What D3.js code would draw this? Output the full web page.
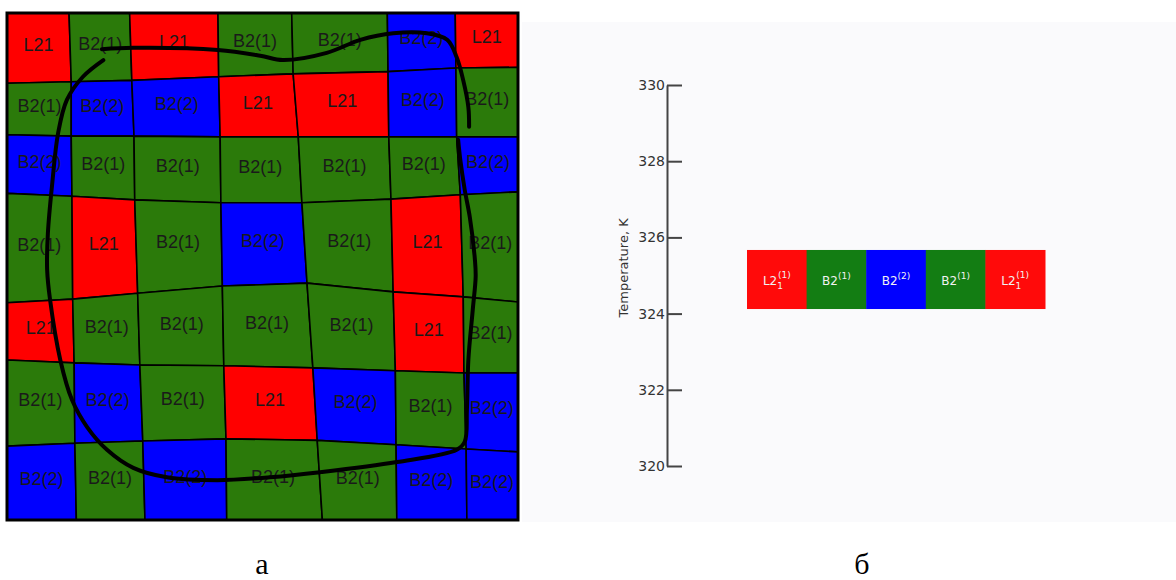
<!DOCTYPE html>
<html lang="ru">
<head>
  <meta charset="UTF-8">
  <title>Ordering of L21 / B2 domains</title>
  <script src="https://d3js.org/d3.v7.min.js"></script>
  <style>
    body { margin: 0; background: #fff; }
  </style>
</head>
<body>
  <script>
    const width = 1176, height = 580;

    // mesh vertices in cell units (8 x 8 grid of corners, rows top -> bottom)
    const meshX = [
      [0, 0.85, 1.68, 2.89, 3.90, 5.21, 6.14, 7],
      [0, 0.88, 1.71, 2.90, 3.92, 5.22, 6.15, 7],
      [0, 0.88, 1.74, 2.92, 3.99, 5.23, 6.16, 7],
      [0, 0.89, 1.75, 2.93, 4.04, 5.26, 6.21, 7],
      [0, 0.90, 1.79, 2.95, 4.11, 5.29, 6.25, 7],
      [0, 0.92, 1.82, 2.97, 4.19, 5.32, 6.26, 7],
      [0, 0.93, 1.86, 3.00, 4.25, 5.33, 6.29, 7],
      [0, 0.95, 1.89, 3.01, 4.32, 5.34, 6.30, 7]
    ];
    const meshY = [
      [0, 0, 0, 0, 0, 0, 0, 0],
      [0.97, 0.95, 0.93, 0.88, 0.84, 0.81, 0.76, 0.75],
      [1.68, 1.70, 1.70, 1.71, 1.71, 1.71, 1.71, 1.71],
      [2.49, 2.53, 2.58, 2.62, 2.62, 2.57, 2.51, 2.47],
      [4.00, 3.95, 3.87, 3.77, 3.73, 3.85, 3.92, 3.99],
      [4.79, 4.83, 4.86, 4.87, 4.90, 4.94, 4.97, 4.97],
      [5.98, 5.94, 5.91, 5.88, 5.90, 5.96, 6.02, 6.06],
      [7, 7, 7, 7, 7, 7, 7, 7]
    ];

    // phase of every cell
    const cellPhase = [
      ['L21', 'B2(1)', 'L21', 'B2(1)', 'B2(1)', 'B2(2)', 'L21'],
      ['B2(1)', 'B2(2)', 'B2(2)', 'L21', 'L21', 'B2(2)', 'B2(1)'],
      ['B2(2)', 'B2(1)', 'B2(1)', 'B2(1)', 'B2(1)', 'B2(1)', 'B2(2)'],
      ['B2(1)', 'L21', 'B2(1)', 'B2(2)', 'B2(1)', 'L21', 'B2(1)'],
      ['L21', 'B2(1)', 'B2(1)', 'B2(1)', 'B2(1)', 'L21', 'B2(1)'],
      ['B2(1)', 'B2(2)', 'B2(1)', 'L21', 'B2(2)', 'B2(1)', 'B2(2)'],
      ['B2(2)', 'B2(1)', 'B2(2)', 'B2(1)', 'B2(1)', 'B2(2)', 'B2(2)']
    ];

    // hand drawn loop, two strokes, in cell units
    const loopTop = [
      [1.30, 0.50], [1.73, 0.48], [2.89, 0.51], [3.47, 0.59], [3.78, 0.65],
      [4.38, 0.55], [4.84, 0.37], [5.29, 0.28], [5.75, 0.28], [6.03, 0.37],
      [6.16, 0.61], [6.25, 0.93], [6.32, 1.30], [6.33, 1.57]
    ];
    const loopMain = [
      [1.32, 0.65], [1.04, 0.88], [0.82, 1.20], [0.70, 1.66], [0.62, 2.35],
      [0.56, 3.04], [0.55, 3.55], [0.59, 3.96], [0.73, 4.79], [0.89, 5.34],
      [1.10, 5.72], [1.37, 6.03], [1.73, 6.28], [2.19, 6.41], [2.88, 6.45],
      [3.60, 6.41], [4.29, 6.34], [5.34, 6.20], [6.16, 6.03], [6.27, 5.92],
      [6.30, 5.48], [6.32, 4.79], [6.38, 4.10], [6.42, 3.64], [6.41, 3.41],
      [6.34, 2.82], [6.27, 2.44], [6.21, 2.03], [6.18, 1.75]
    ];

    // right panel: temperature band of the ordered sequence
    const tempTicks = [320, 322, 324, 326, 328, 330];
    const bandTemp = [324.12, 325.67];
    const seqBase = ['L2', 'B2', 'B2', 'B2', 'L2'];
    const seqSub = ['1', '', '', '', '1'];
    const seqSup = ['(1)', '(1)', '(2)', '(1)', '(1)'];
    const seqPhase = ['L21', 'B2(1)', 'B2(2)', 'B2(1)', 'L21'];

    const phaseColor = { 'L21': '#ff0000', 'B2(1)': '#2b7a0a', 'B2(2)': '#0000ff' };
    const seqColor = { 'L21': '#ff0a0a', 'B2(1)': '#137d13', 'B2(2)': '#0000ff' };

    const svg = d3.select('body')
      .append('svg')
      .attr('width', width)
      .attr('height', height);

    // ---------- panel a ----------
    const xM = d3.scaleLinear().domain([0, 7]).range([7, 518]);
    const yM = d3.scaleLinear().domain([0, 7]).range([13, 520]);
    const pt = (i, j) => [xM(meshX[i][j]), yM(meshY[i][j])];

    const cells = [];
    cellPhase.forEach((row, i) => row.forEach((ph, j) => {
      const poly = [pt(i, j), pt(i, j + 1), pt(i + 1, j + 1), pt(i + 1, j)];
      cells.push({ ph, poly, c: d3.polygonCentroid(poly) });
    }));

    const gA = svg.append('g');
    gA.selectAll('path.cell')
      .data(cells)
      .join('path')
      .attr('class', 'cell')
      .attr('d', d => 'M' + d.poly.join('L') + 'Z')
      .attr('fill', d => phaseColor[d.ph])
      .attr('stroke', '#000')
      .attr('stroke-width', 1.6)
      .attr('stroke-linejoin', 'round');

    gA.selectAll('text.lbl')
      .data(cells)
      .join('text')
      .attr('class', 'lbl')
      .attr('x', d => d.c[0])
      .attr('y', d => d.c[1] - 2)
      .attr('text-anchor', 'middle')
      .attr('dominant-baseline', 'middle')
      .style('font', '18px "Liberation Sans", Arial, sans-serif')
      .style('fill', '#1a1a1a')
      .text(d => d.ph);

    gA.append('rect')
      .attr('x', xM(0))
      .attr('y', yM(0))
      .attr('width', xM(7) - xM(0))
      .attr('height', yM(7) - yM(0))
      .attr('fill', 'none')
      .attr('stroke', '#000')
      .attr('stroke-width', 3);

    const loopLine = d3.line()
      .x(d => xM(d[0]))
      .y(d => yM(d[1]))
      .curve(d3.curveCatmullRom.alpha(0.5));

    gA.selectAll('path.loop')
      .data([loopTop, loopMain])
      .join('path')
      .attr('class', 'loop')
      .attr('d', loopLine)
      .attr('fill', 'none')
      .attr('stroke', '#000')
      .attr('stroke-width', 4)
      .attr('stroke-linecap', 'round')
      .attr('stroke-linejoin', 'round');

    // ---------- panel б ----------
    svg.append('rect')
      .attr('x', 522)
      .attr('y', 22)
      .attr('width', width - 522)
      .attr('height', 500)
      .attr('fill', '#fafafc');

    const yT = d3.scaleLinear().domain([320, 330]).range([466, 85]);

    const axis = d3.axisLeft(yT)
      .tickValues(tempTicks)
      .tickFormat(d3.format('d'))
      .tickSizeInner(-15)
      .tickSizeOuter(0)
      .tickPadding(2);

    const gAx = svg.append('g')
      .attr('transform', 'translate(667, 0)')
      .call(axis);
    gAx.select('.domain').attr('stroke', '#444').attr('stroke-width', 2);
    gAx.selectAll('.tick line').attr('stroke', '#444').attr('stroke-width', 2);
    gAx.selectAll('.tick text')
      .attr('fill', '#333')
      .style('font', '14px "DejaVu Sans", sans-serif');

    svg.append('text')
      .attr('transform', `translate(628, ${yT(325.2)}) rotate(-90)`)
      .attr('text-anchor', 'middle')
      .style('font', '13px "DejaVu Sans", sans-serif')
      .style('fill', '#333')
      .text('Temperature, K');

    const xB = d3.scaleBand().domain(d3.range(seqBase.length)).range([747, 1045]);

    const seg = svg.append('g').selectAll('g')
      .data(seqBase.map((b, i) => ({ b, i, sub: seqSub[i], sup: seqSup[i], ph: seqPhase[i] })))
      .join('g');

    seg.append('rect')
      .attr('x', d => xB(d.i))
      .attr('y', yT(bandTemp[1]))
      .attr('width', xB.bandwidth() + 0.5)
      .attr('height', yT(bandTemp[0]) - yT(bandTemp[1]))
      .attr('fill', d => seqColor[d.ph]);

    const lab = seg.append('text')
      .attr('x', d => xB(d.i) + xB.bandwidth() / 2)
      .attr('y', (yT(bandTemp[0]) + yT(bandTemp[1])) / 2 + 5)
      .attr('text-anchor', 'middle')
      .style('font', '12px "DejaVu Sans", sans-serif')
      .style('fill', '#f2f2f2');

    lab.append('tspan').text(d => d.b);
    lab.filter(d => d.sub)
      .append('tspan')
      .attr('dy', 4)
      .style('font-size', '9px')
      .text(d => d.sub);
    lab.append('tspan')
      .attr('dx', d => d.sub ? -5 : 0)
      .attr('dy', d => d.sub ? -11 : -6)
      .style('font-size', '9px')
      .text(d => d.sup);

    // panel captions
    svg.selectAll('text.cap')
      .data([['а', 262], ['б', 862]])
      .join('text')
      .attr('class', 'cap')
      .attr('x', d => d[1])
      .attr('y', 574)
      .attr('text-anchor', 'middle')
      .style('font', '30px "Liberation Serif", "Times New Roman", serif')
      .style('fill', '#000')
      .text(d => d[0]);
  </script>
</body>
</html>
